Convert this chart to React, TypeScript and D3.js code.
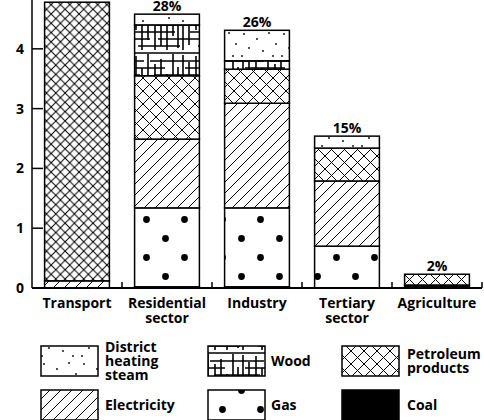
import React from 'react';
import * as d3 from 'd3';

// sectors along the x axis (second line of label after \n)
const sectors = ['Transport', 'Residential\nsector', 'Industry', 'Tertiary\nsector', 'Agriculture'];

// consumption by source (stacked bottom -> top)
const coal = [0, 0.02, 0.02, 0, 0.05];
const gas = [0, 1.32, 1.32, 0.7, 0];
const electricity = [0.12, 1.15, 1.75, 1.09, 0];
const petroleum = [4.66, 1.06, 0.57, 0.55, 0.18];
const wood = [0, 0.85, 0.14, 0, 0];
const heating = [0, 0.18, 0.51, 0.2, 0];

const shares = ['', '28%', '26%', '15%', '2%'];
const yTicks = [0, 1, 2, 3, 4];

const keys = ['coal', 'gas', 'electricity', 'petroleum', 'wood', 'heating'];
const seriesValues: Record<string, number[]> = { coal, gas, electricity, petroleum, wood, heating };

const legendItems = [
  { key: 'heating', label: ['District', 'heating', 'steam'] },
  { key: 'wood', label: ['Wood'] },
  { key: 'petroleum', label: ['Petroleum', 'products'] },
  { key: 'electricity', label: ['Electricity'] },
  { key: 'gas', label: ['Gas'] },
  { key: 'coal', label: ['Coal'] },
];

const W = 484;
const H = 420;
const font = '"Open Sans", "DejaVu Sans", sans-serif';

const fillFor = (key: string, i = -1) => {
  if (key === 'coal') return '#000';
  if (key === 'petroleum' && i === 0) return 'url(#pat-petroleum-dense)';
  return `url(#pat-${key})`;
};

export default function App() {
  const x = d3.scaleBand<string>().domain(sectors).range([32, 482]).paddingInner(0.28).paddingOuter(0.14);
  const y = d3.scaleLinear().domain([0, 4.8]).range([288, 1]);

  const rows = sectors.map((s, i) => {
    const r: any = { sector: s };
    keys.forEach(k => (r[k] = seriesValues[k][i]));
    return r;
  });
  const stacked = d3.stack<any>().keys(keys)(rows);
  const totals = sectors.map((_, i) => d3.sum(keys, k => seriesValues[k][i]));

  const bw = x.bandwidth();
  const gapHalf = (x.step() * x.paddingInner()) / 2;

  const legendCols = [41, 208, 342];
  const legendTextDx = [64, 63, 65];
  const legendRows = [346, 390];
  const lineGap = 14;

  return (
    <svg width={W} height={H} style={{ position: 'absolute', left: 0, top: 0, background: '#fff' }} fontFamily={font} fontWeight={700}>
      <defs>
        <pattern id="pat-petroleum" patternUnits="userSpaceOnUse" width={13} height={13}>
          <rect width={13} height={13} fill="#fff" />
          <path d="M0,0L13,13M13,0L0,13" stroke="#000" strokeWidth={1} />
        </pattern>
        <pattern id="pat-petroleum-dense" patternUnits="userSpaceOnUse" width={9.3} height={9.3}>
          <rect width={9.3} height={9.3} fill="#fff" />
          <path d="M0,0L9.3,9.3M9.3,0L0,9.3" stroke="#000" strokeWidth={1} />
        </pattern>
        <pattern id="pat-electricity" patternUnits="userSpaceOnUse" width={11} height={11}>
          <rect width={11} height={11} fill="#fff" />
          <path d="M0,11L11,0M-2,2L2,-2M9,13L13,9" stroke="#000" strokeWidth={1} />
        </pattern>
        <pattern id="pat-gas" patternUnits="userSpaceOnUse" width={38} height={38}>
          <rect width={38} height={38} fill="#fff" />
          <circle cx={32.5} cy={29.5} r={3.4} fill="#000" />
          <circle cx={13.5} cy={10.5} r={3.4} fill="#000" />
        </pattern>
        <pattern id="pat-heating" patternUnits="userSpaceOnUse" width={40} height={30}>
          <rect width={40} height={30} fill="#fff" />
          {[[4, 4], [17, 9], [29, 3], [36, 14], [9, 18], [23, 21], [33, 26], [2, 26]].map(([cx, cy], j) => (
            <circle key={j} cx={cx} cy={cy} r={0.9} fill="#000" />
          ))}
        </pattern>
        <pattern id="pat-wood" patternUnits="userSpaceOnUse" width={60} height={50}>
          <rect width={60} height={50} fill="#fff" />
          <path
            d="M0,3H60M0,11H24M30,11H60M5,18H45M0,25H20M34,25H60M10,32H55M0,39H30M38,39H60M18,46H60"
            stroke="#000"
            strokeWidth={1.3}
          />
          <path
            d="M3,5V50M9,12V45M16,6V30M22,18V50M28,4V40M35,14V50M41,9V46M47,24V50M53,4V36M58,17V48"
            stroke="#000"
            strokeWidth={1.6}
          />
        </pattern>
      </defs>

      {/* bars */}
      {stacked.map(layer =>
        layer.map((d, i) => {
          const h = y(d[0]) - y(d[1]);
          if (h <= 0) return null;
          return (
            <rect
              key={layer.key + i}
              x={x(sectors[i])}
              y={y(d[1])}
              width={bw}
              height={h}
              fill={fillFor(layer.key, i)}
              stroke="#000"
              strokeWidth={1.5}
            />
          );
        })
      )}

      {/* share labels */}
      {sectors.map((s, i) => (
        <text key={'p' + i} x={x(s)! + bw / 2} y={y(totals[i]) - 3} textAnchor="middle" fontSize={14}>
          {shares[i]}
        </text>
      ))}

      {/* y axis */}
      <line x1={32} x2={32} y1={0} y2={y(0)} stroke="#000" strokeWidth={1.5} />
      {yTicks.map(t => (
        <g key={t}>
          <line x1={32} x2={43} y1={y(t)} y2={y(t)} stroke="#000" strokeWidth={1.5} />
          <text x={24} y={y(t) + 5} textAnchor="end" fontSize={14}>
            {t}
          </text>
        </g>
      ))}

      {/* x axis */}
      <line x1={32} x2={482} y1={y(0)} y2={y(0)} stroke="#000" strokeWidth={2} />
      {sectors.map(s => (
        <line
          key={'t' + s}
          x1={x(s)! + bw + gapHalf}
          x2={x(s)! + bw + gapHalf}
          y1={y(0)}
          y2={y(0) - 6}
          stroke="#000"
          strokeWidth={1.5}
        />
      ))}
      {sectors.map(s => (
        <text key={'l' + s} x={x(s)! + bw / 2} textAnchor="middle" fontSize={14}>
          {s.split('\n').map((line, j) => (
            <tspan key={j} x={x(s)! + bw / 2} y={308 + j * 15}>
              {line}
            </tspan>
          ))}
        </text>
      ))}

      {/* legend */}
      {legendItems.map((it, j) => {
        const lx = legendCols[j % 3];
        const ly = legendRows[Math.floor(j / 3)];
        const n = it.label.length;
        const firstBase = ly + 20 - ((n - 1) * lineGap) / 2;
        return (
          <g key={it.key}>
            <rect x={lx} y={ly} width={57} height={30} fill={fillFor(it.key)} stroke="#000" strokeWidth={1.5} />
            <text fontSize={14}>
              {it.label.map((line, k) => (
                <tspan key={k} x={lx + legendTextDx[j % 3]} y={firstBase + k * lineGap}>
                  {line}
                </tspan>
              ))}
            </text>
          </g>
        );
      })}
    </svg>
  );
}
